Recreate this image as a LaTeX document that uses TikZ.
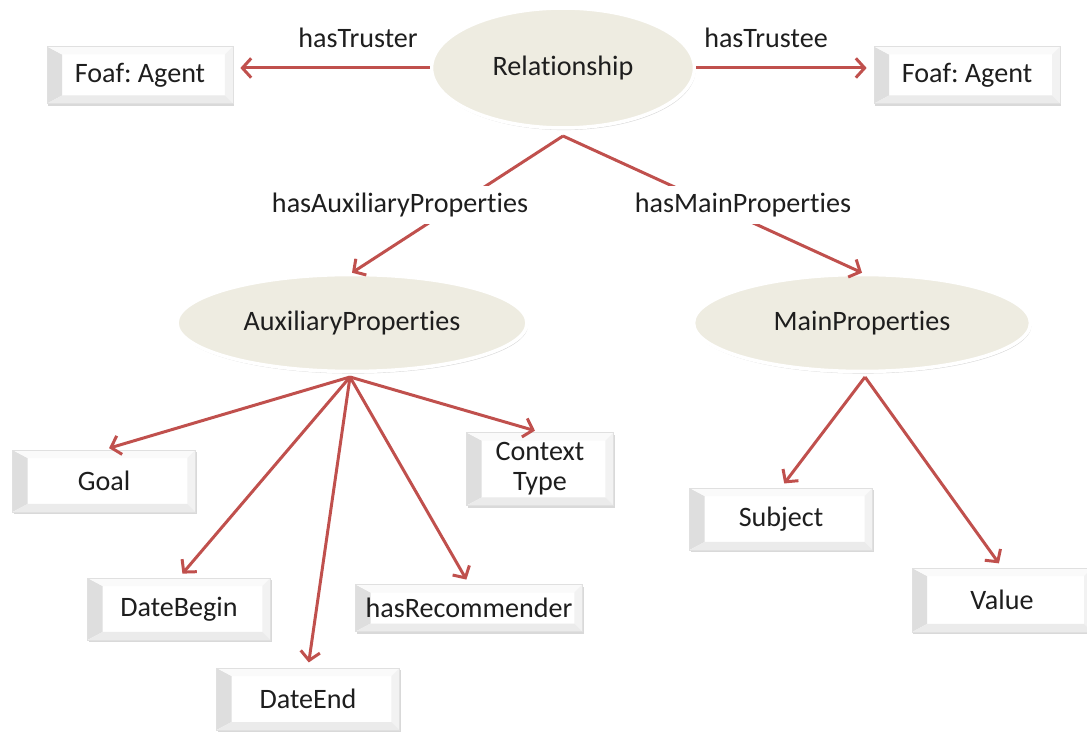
\documentclass[tikz,border=0pt]{standalone}
\usepackage{fontspec}
\setmainfont[Ligatures=NoCommon]{Carlito}
\usepackage{xcolor}
\usetikzlibrary{shapes.geometric,shadows,arrows.meta}
\definecolor{linkred}{RGB}{192, 80, 77}
\definecolor{classfill}{RGB}{238, 236, 225}
\definecolor{textgray}{RGB}{30, 30, 30}
\frenchspacing

\tikzset{
  every node/.style={font=\fontsize{16}{19}\selectfont, text=textgray},
  classnode/.style={ellipse, fill=classfill, draw=white, line width=2pt, inner sep=0pt,
    drop shadow={opacity=0.3, shadow xshift=0.6pt, shadow yshift=-1.2pt}},
  valuebox/.style={rectangle, fill=white, draw=black!12, line width=0.4pt, align=center,
    minimum width=3.66cm, minimum height=1.24cm,
    drop shadow={opacity=0.3, shadow xshift=0.8pt, shadow yshift=-1.4pt},
    path picture={
      \fill[black!13] (path picture bounding box.south west) -- (path picture bounding box.north west)
        -- ([shift={(0.3cm,-0.16cm)}]path picture bounding box.north west)
        -- ([shift={(0.3cm,0.16cm)}]path picture bounding box.south west) -- cycle;
      \fill[black!2] (path picture bounding box.north west) -- (path picture bounding box.north east)
        -- ([shift={(-0.16cm,-0.16cm)}]path picture bounding box.north east)
        -- ([shift={(0.3cm,-0.16cm)}]path picture bounding box.north west) -- cycle;
      \fill[black!5] (path picture bounding box.north east) -- (path picture bounding box.south east)
        -- ([shift={(-0.16cm,0.16cm)}]path picture bounding box.south east)
        -- ([shift={(-0.16cm,-0.16cm)}]path picture bounding box.north east) -- cycle;
      \fill[black!8] (path picture bounding box.south west) -- (path picture bounding box.south east)
        -- ([shift={(-0.16cm,0.16cm)}]path picture bounding box.south east)
        -- ([shift={(0.3cm,0.16cm)}]path picture bounding box.south west) -- cycle;
    }},
  link/.style={draw=linkred, line width=1.7pt},
  arr/.style={link, -{Straight Barb[length=5pt, width=11pt, line width=1.7pt]}},
  edgelabel/.style={fill=white, inner sep=4pt}
}

\begin{document}
\begin{tikzpicture}[x=0.02cm, y=-0.02cm]
\useasboundingbox (0,0) rectangle (1087,732);

% Classes
\node[classnode, minimum width=5.26cm, minimum height=2.4cm] (rel) at (563,68) {Relationship};
\node[classnode, minimum width=7.0cm, minimum height=1.94cm] (auxp) at (352,323) {AuxiliaryProperties};
\node[classnode, minimum width=6.74cm, minimum height=1.94cm] (mainp) at (862,323) {MainProperties};

% Agents
\node[valuebox, minimum width=3.72cm, minimum height=1.14cm] (agentl) at (140,75) {Foaf: Agent};
\node[valuebox, minimum width=3.72cm, minimum height=1.14cm] (agentr) at (967,75) {Foaf: Agent};

% Auxiliary values
\node[valuebox] (goal) at (104,481) {Goal};
\node[valuebox] (datebegin) at (179,609) {DateBegin};
\node[valuebox] (dateend) at (308,699) {DateEnd};
\node[valuebox, minimum width=4.54cm, minimum height=0.94cm] (recomm) at (469,608) {hasRecommender};
\node[valuebox, minimum width=2.94cm, minimum height=1.46cm] (context) at (540,469) {Context\\[-2pt]Type};

% Main values
\node[valuebox] (subject) at (781,519) {Subject};
\node[valuebox, minimum width=3.6cm, minimum height=1.28cm] (value) at (1002,600) {Value};

% Junctions
\coordinate (relb) at (563,136);
\coordinate (auxb) at (350,377);
\coordinate (mainb) at (865,377);

% Trust links
\draw[arr, shorten >=4pt] (rel.west) -- (rel.west -| agentl.east);
\draw[arr, shorten >=4pt] (rel.east) -- (rel.east -| agentr.west);
\node (truster) at (358,38) {hasTruster};
\node (trustee) at (766,38) {hasTrustee};

% Property links
\draw[arr] (relb) -- (auxp.north);
\draw[arr] (relb) -- (mainp.north);
\node[edgelabel] (hasaux) at (400,205) {hasAuxiliaryProperties};
\node[edgelabel] (hasmain) at (743,205) {hasMainProperties};

% Values of the auxiliary properties
\foreach \target in {goal, datebegin, dateend, recomm, context}
  \draw[arr, shorten >=3pt] (auxb) -- (\target.north);

% Values of the main properties
\foreach \target in {subject, value}
  \draw[arr, shorten >=3pt] (mainb) -- (\target.north);
\end{tikzpicture}
\end{document}
